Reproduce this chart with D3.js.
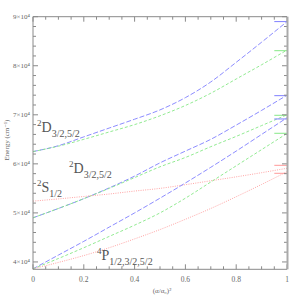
<!DOCTYPE html>
<html><head><meta charset="utf-8">
<script src="https://cdn.jsdelivr.net/npm/d3@7"></script>
<style>body{margin:0;background:#fff}svg{display:block}</style>
</head><body><svg id="c" width="303" height="303"></svg>
<script>
// x values: (alpha/alpha0)^2
const xVals = [0,0.1,0.2,0.3,0.4,0.5,0.6,0.7,0.8,0.9,1.0];
// 2D upper pair
const dUpperBlue  = [62500,63700,65500,67300,69100,71000,73500,76700,80700,84800,89000];
const dUpperGreen = [62500,63600,65000,66500,68000,69800,71900,74400,77300,80200,83200];
// 2D lower pair
const dLowerBlue  = [49000,50900,52900,55100,57500,60200,62600,65000,67900,70900,74000];
const dLowerGreen = [49000,50900,52900,55000,57200,59400,61300,63500,65600,67800,70000];
// 2S
const sRed        = [52400,52850,53350,53850,54450,55000,55750,56550,57350,58200,59100];
// 4P triplet
const pBlue  = [38600,41400,44200,47100,50000,53000,56100,59300,62600,66000,69400];
const pGreen = [38600,40700,42900,45200,47500,50000,53000,56300,59600,62900,66200];
const pRed   = [38600,39900,41300,42900,44700,46600,48700,50900,53300,55800,58400];
// reference levels at alpha = alpha0 (short marks at right edge)
const refBlue  = [89000,73900,69150];
const refGreen = [83070,69900,66230];
const refRed   = [59700,58070];
// ticks
const xTicksMajor = [0,0.2,0.4,0.6,0.8,1];
const xTickLabels = ["0","0.2","0.4","0.6","0.8","1"];
const yTicksMajor = [40000,50000,60000,70000,80000,90000];
const yTickLabels = ["4×10⁴","5×10⁴","6×10⁴","7×10⁴","8×10⁴","9×10⁴"];

const svg = d3.select("#c");
const L=33, R=287, T=16.7, B=269.3;
const x = d3.scaleLinear().domain([0,1]).range([L,R]);
const y = d3.scaleLinear().domain([38500,90000]).range([B,T]);
const axisCol = "#8a8a8a", textCol = "#666";

const blue="#7f7fff", green="#86e886", red="#ff9a9a";
const series = [
  {v:dUpperBlue, c:blue, d:"5,2"},
  {v:dUpperGreen, c:green, d:"3,2"},
  {v:dLowerBlue, c:blue, d:"5,2"},
  {v:dLowerGreen, c:green, d:"3,2"},
  {v:sRed, c:red, d:"1,1.3"},
  {v:pBlue, c:blue, d:"5,2"},
  {v:pGreen, c:green, d:"3,2"},
  {v:pRed, c:red, d:"1,1.3"}
];
const line = d3.line().x((d,i)=>x(xVals[i])).y(d=>y(d)).curve(d3.curveMonotoneX);
series.forEach(s=>{
  svg.append("path").attr("d",line(s.v)).attr("fill","none")
    .attr("stroke",s.c).attr("stroke-width",0.9).attr("stroke-dasharray",s.d);
});
// reference marks
[[refBlue,blue],[refGreen,green],[refRed,red]].forEach(([arr,c])=>{
  svg.selectAll(null).data(arr).enter().append("line")
    .attr("x1",x(0.95)).attr("x2",x(1)).attr("y1",d=>y(d)).attr("y2",d=>y(d))
    .attr("stroke",c).attr("stroke-width",1);
});

// axes (ticks inward)
const g = svg.append("g");
const xMinor = d3.range(0,1.0001,0.05);
const yMinor = d3.range(40000,90001,2000);
function isMaj(v,arr){return arr.some(a=>Math.abs(a-v)<1e-6);}
xMinor.forEach(v=>{
  const len = isMaj(v,xTicksMajor)?5:3;
  g.append("line").attr("x1",x(v)).attr("x2",x(v)).attr("y1",B).attr("y2",B-len).attr("stroke",axisCol);
  g.append("line").attr("x1",x(v)).attr("x2",x(v)).attr("y1",T).attr("y2",T+len).attr("stroke",axisCol);
});
yMinor.forEach(v=>{
  const len = isMaj(v,yTicksMajor)?5:3;
  g.append("line").attr("x1",L).attr("x2",L+len).attr("y1",y(v)).attr("y2",y(v)).attr("stroke",axisCol);
  g.append("line").attr("x1",R).attr("x2",R-len).attr("y1",y(v)).attr("y2",y(v)).attr("stroke",axisCol);
});
g.append("line").attr("x1",L).attr("x2",R).attr("y1",B).attr("y2",B).attr("stroke",axisCol);
g.append("line").attr("x1",L).attr("x2",R).attr("y1",T).attr("y2",T).attr("stroke",axisCol);
g.append("line").attr("x1",L).attr("x2",L).attr("y1",T).attr("y2",B).attr("stroke",axisCol);
g.append("line").attr("x1",R+0.5).attr("x2",R+0.5).attr("y1",T).attr("y2",B).attr("stroke","#aaa").attr("stroke-width",2);

const font = "'Liberation Serif','DejaVu Serif',serif";
xTicksMajor.forEach((v,i)=>{
  svg.append("text").attr("x",x(v)).attr("y",282).attr("text-anchor","middle")
    .attr("font-family",font).attr("font-size",7.5).attr("fill",textCol).text(xTickLabels[i]);
});
yTicksMajor.forEach((v,i)=>{
  svg.append("text").attr("x",L-3).attr("y",y(v)+2.5).attr("text-anchor","end")
    .attr("font-family",font).attr("font-size",7).attr("fill",textCol).text(yTickLabels[i]);
});
svg.append("text").attr("x",162).attr("y",293).attr("text-anchor","middle")
  .attr("font-family",font).attr("font-size",7).attr("fill",textCol).text("(α/α₀)²");
svg.append("text").attr("transform","translate(9,140) rotate(-90)").attr("text-anchor","middle")
  .attr("font-family",font).attr("font-size",7).attr("fill",textCol).text("Energy (cm⁻¹)");

// term labels
const labels = [
  {x:37, y:132, sup:"2", main:"D", sub:"3/2,5/2"},
  {x:69, y:173, sup:"2", main:"D", sub:"3/2,5/2"},
  {x:37, y:192, sup:"2", main:"S", sub:"1/2"},
  {x:97, y:260, sup:"4", main:"P", sub:"1/2,3/2,5/2"}
];
labels.forEach(l=>{
  const t = svg.append("text").attr("x",l.x).attr("y",l.y).attr("font-family",font).attr("fill","#555");
  t.append("tspan").attr("font-size",9).attr("dy",-6).text(l.sup);
  t.append("tspan").attr("font-size",14).attr("dy",6).text(l.main);
  t.append("tspan").attr("font-size",10).attr("dy",5).text(l.sub);
});
</script></body></html>
